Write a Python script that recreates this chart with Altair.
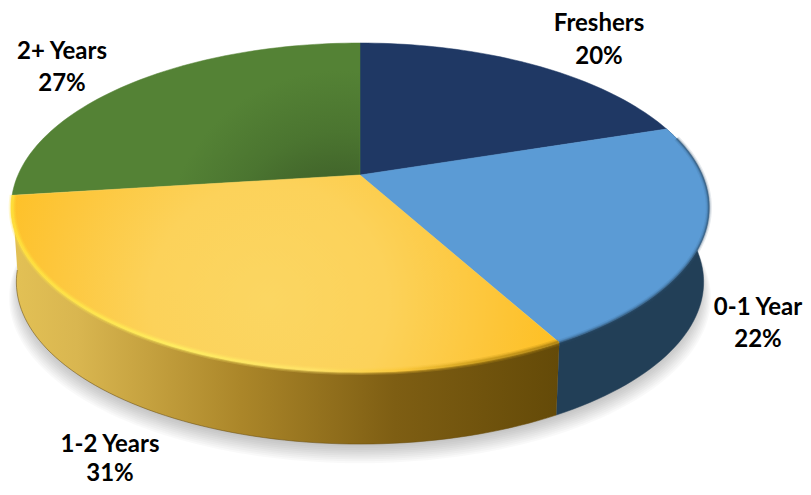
import math
import altair as alt
import pandas as pd

categories = ["Freshers", "0-1 Year", "1-2 Years", "2+ Years"]
percents = [20, 22, 31, 27]

# Perspective view of the disc (screen pixels of the reference)
CX, CY, RX, RY, TILT = 360.0, 175.0, 342.0, 158.1, 0.1976
DEPTH, BOTTOM_SCALE = 75.0, 0.985
PAGE_W, PAGE_H, MARGIN = 811, 495, 8
PLOT_W, PLOT_H = PAGE_W - 2 * MARGIN, PAGE_H - 2 * MARGIN

# cumulative angles from the slice shares
angles = [0.0]
for p in percents:
    angles.append(angles[-1] + p * 3.6)
START = dict(zip(categories, angles[:-1]))
END = dict(zip(categories, angles[1:]))


def rim(theta, scale=1.0, dy=0.0):
    t = math.radians(theta)
    u, v = math.sin(t), math.cos(t)
    w = 1 + TILT * v
    return (RX * scale * u / w, RY * scale * v / w - dy)


def arc_points(a, b, scale=1.0, dy=0.0):
    n = max(2, int(abs(b - a) / 1.5))
    return [rim(a + (b - a) * i / n, scale, dy) for i in range(n + 1)]


def frame(points):
    return pd.DataFrame(
        {"x": [p[0] for p in points], "y": [p[1] for p in points], "i": range(len(points))}
    )


x_scale = alt.Scale(domain=[MARGIN - CX, MARGIN + PLOT_W - CX], range=[0, PLOT_W], nice=False, zero=False)
y_scale = alt.Scale(domain=[CY - MARGIN, CY - (MARGIN + PLOT_H)], range=[0, PLOT_H], nice=False, zero=False)


def shape(points, **mark):
    return alt.Chart(frame(points)).mark_line(interpolate="linear", clip=False, **mark).encode(
        x=alt.X("x:Q", scale=x_scale, axis=None),
        y=alt.Y("y:Q", scale=y_scale, axis=None),
        order="i:Q",
    )


def linear(stops, x1=0, y1=0, x2=1, y2=0):
    return alt.LinearGradient(
        gradient="linear", x1=x1, y1=y1, x2=x2, y2=y2,
        stops=[alt.GradientStop(offset=o, color=c) for o, c in stops],
    )


def radial(stops, x, y, r):
    return alt.RadialGradient(
        gradient="radial", x1=x, y1=y, r1=0, x2=x, y2=y, r2=r,
        stops=[alt.GradientStop(offset=o, color=c) for o, c in stops],
    )


def wedge(name):
    return [(0.0, 0.0)] + arc_points(START[name], END[name]) + [(0.0, 0.0)]


def wall(name, a=None, b=None):
    a = START[name] if a is None else a
    b = END[name] if b is None else b
    top = arc_points(a, b)
    bottom = arc_points(b, a, BOTTOM_SCALE, DEPTH)
    return top + bottom + [top[0]]


layers = []

# soft shadow beneath the disc
rings = 10
for i in range(rings):
    f = i / (rings - 1)
    layers.append(
        shape(arc_points(0, 360, 1.006 - 0.03 * f, DEPTH + 15 - 11 * f),
              fill="#000000", fillOpacity=0.022, strokeWidth=0)
    )

# outer walls
layers.append(shape(wall("0-1 Year"), fill="#223f57", stroke="#223f57", strokeWidth=0.5))
layers.append(
    shape(
        wall("1-2 Years"),
        fill=linear([(0, "#e3c155"), (0.12, "#d9b650"), (0.42, "#ab8629"), (0.7, "#7e5e13"), (1, "#644a08")]),
        strokeWidth=0,
    )
)
layers.append(shape(arc_points(START["1-2 Years"], END["1-2 Years"], BOTTOM_SCALE, DEPTH),
                    stroke="#6a4f10", strokeWidth=1, strokeOpacity=0.55, fillOpacity=0))

# top faces
layers.append(shape(wedge("Freshers"), fill="#1f3864", stroke="#1f3864", strokeWidth=0.5))
layers.append(shape(wedge("0-1 Year"), fill="#5b9bd5", stroke="#5b9bd5", strokeWidth=0.5))
layers.append(
    shape(
        wedge("2+ Years"),
        fill=radial([(0, "#385725"), (0.3, "#3f6129"), (0.65, "#4b7530"), (1, "#548235")], 0.94, 0.86, 0.5),
        stroke="#548235",
        strokeWidth=0.5,
    )
)
layers.append(
    shape(
        wedge("1-2 Years"),
        fill=radial([(0, "#fbd662"), (0.4, "#fcd25a"), (0.75, "#fdc63a"), (1, "#febf22")], 0.47, 0.55, 0.54),
        stroke="#fcd25a",
        strokeWidth=0.5,
    )
)

# bevel along the rim
glow = linear([(0, "#ffe23c"), (0.3, "#fff060"), (0.55, "#ffe468"), (0.72, "#f9c535"), (0.85, "#c99a18"), (1, "#a67c10")])
for width, opacity in [(7, 0.22), (4.5, 0.35), (2.5, 0.65)]:
    layers.append(
        shape(arc_points(START["1-2 Years"], END["1-2 Years"], 0.997, 0.0)[::-1],
              stroke=glow, strokeWidth=width, strokeOpacity=opacity, fillOpacity=0)
    )
for width, opacity in [(6, 0.12), (3.5, 0.22), (1.8, 0.45)]:
    layers.append(
        shape(arc_points(START["0-1 Year"] + 4, END["0-1 Year"]),
              stroke="#2f5272", strokeWidth=width, strokeOpacity=opacity, fillOpacity=0)
    )

# labels (first line's centre, second line follows by line height)
label_x = [599, 758, 110, 62]
label_y = [24, 308, 445, 52]
label_leading = [33, 32, 29, 32]
for name, pct, lx, ly, lead in zip(categories, percents, label_x, label_y, label_leading):
    layers.append(
        alt.Chart(pd.DataFrame({"label": [f"{name}\n{pct}%"]}))
        .mark_text(font="Lato", fontSize=24, fontWeight="bold", color="#000000",
                   align="center", baseline="middle", lineBreak="\n", lineHeight=lead)
        .encode(text="label:N", x=alt.value(lx - MARGIN), y=alt.value(ly - MARGIN))
    )

chart = (
    alt.layer(*layers)
    .properties(width=PLOT_W, height=PLOT_H, padding=0,
                autosize=alt.AutoSizeParams(type="none"), background="#ffffff")
    .configure_view(stroke=None)
)

chart.save("out.html", embed_options={"renderer": "svg", "actions": False})
